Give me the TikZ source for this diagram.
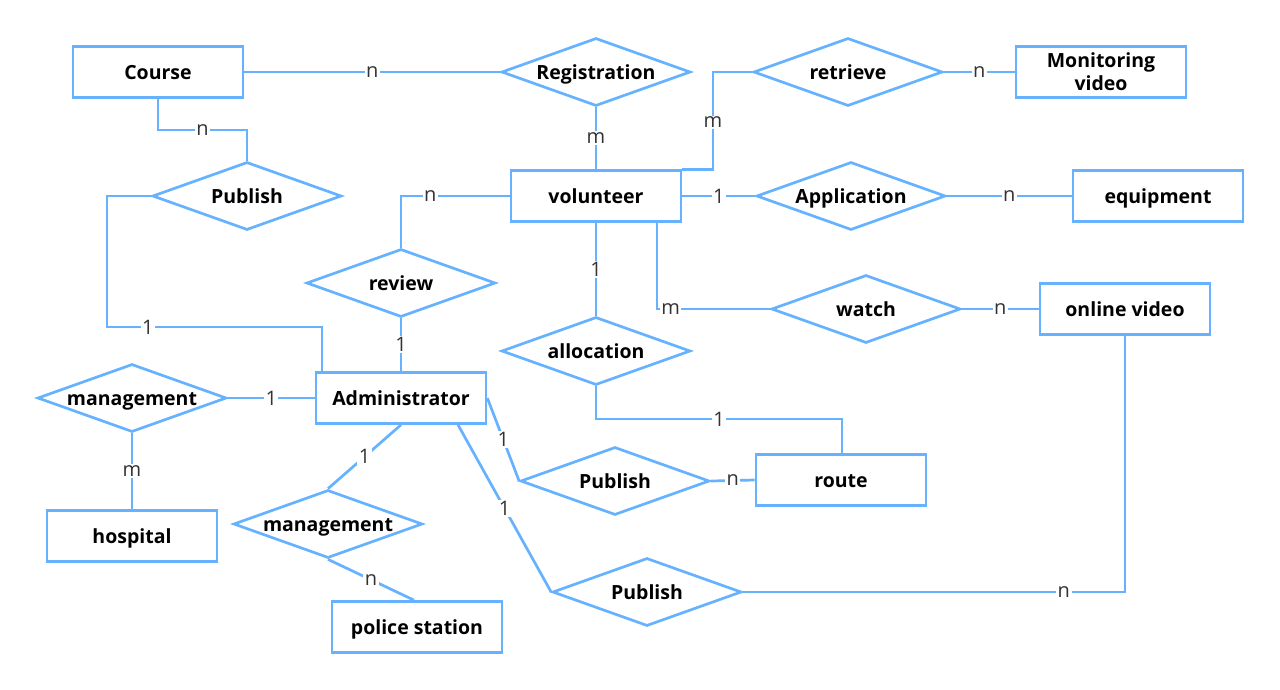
\documentclass[tikz,border=0pt]{standalone}
\usepackage{fontspec}
\setmainfont{Open Sans}[BoldFont={Open Sans Bold}]
\usetikzlibrary{shapes.geometric}
\definecolor{erblue}{RGB}{102,178,255}
\definecolor{lblgray}{RGB}{51,51,51}
\tikzset{
  entbase/.style={draw=erblue, line width=2.7pt, rectangle, minimum width=170pt, minimum height=51pt, inner sep=0pt, font=\fontsize{19.5}{23}\selectfont\bfseries},
  ent/.style={entbase, text height=14pt, text depth=0pt},
  rel/.style={draw=erblue, line width=2.7pt, diamond, aspect=2.78, minimum width=189pt, minimum height=68pt, inner sep=0pt, text height=14pt, text depth=0pt, font=\fontsize{19.5}{23}\selectfont\bfseries},
  conn/.style={draw=erblue, line width=2.7pt},
  card/.style={fill=white, inner sep=1.5pt, text=lblgray, font=\fontsize{20}{20}\selectfont}
}
\begin{document}
\begin{tikzpicture}[x=1pt,y=-1pt]
\useasboundingbox (0,0) rectangle (1280,689);
% entities
\node[ent] (course) at (158,72) {Course};
\node[entbase, align=center] (monitor) at (1101,72) {Monitoring\\video};
\node[ent] (vol) at (596,196) {volunteer};
\node[ent] (equip) at (1158,196) {equipment};
\node[ent] (online) at (1125,309) {online video};
\node[ent] (admin) at (401,398) {Administrator};
\node[ent] (hosp) at (132,536) {hospital};
\node[ent] (police) at (417,627) {police station};
\node[ent] (route) at (841,480) {route};
% relationships
\node[rel] (reg) at (596,72) {Registration};
\node[rel] (retr) at (848,72) {retrieve};
\node[rel] (appl) at (851,196) {Application};
\node[rel] (pub1) at (247,196) {Publish};
\node[rel] (review) at (401,283) {review};
\node[rel] (alloc) at (596,351) {allocation};
\node[rel] (watch) at (866,309) {watch};
\node[rel] (mgmt1) at (132,398) {management};
\node[rel] (mgmt2) at (328,524) {management};
\node[rel] (pub2) at (615,481) {Publish};
\node[rel] (pub3) at (647,592) {Publish};
% connectors
\draw[conn] (course.east) -- node[card]{n} (reg.west);
\draw[conn] (course.south) -- (158,130) -- node[card]{n} (247,130) -- (pub1.north);
\draw[conn] (pub1.west) -- (107,196) -- (107,327) -- node[card,pos=0.19]{1} (322,327) -- (admin.north west -| 322,373);
\draw[conn] (reg.south) -- node[card]{m} (vol.north);
\draw[conn] (vol.north east) -- (vol.north east -| 713,0) -- node[card,pos=0.48]{m} (713,72) -- (retr.west);
\draw[conn] (retr.east) -- node[card]{n} (monitor.west);
\draw[conn] (vol.east) -- node[card]{1} (appl.west);
\draw[conn] (appl.east) -- node[card]{n} (equip.west);
\draw[conn] (vol.west) -- node[card,pos=0.73]{n} (401,196) -- (review.north);
\draw[conn] (review.south) -- node[card]{1} (admin.north);
\draw[conn] (vol.south) -- node[card]{1} (alloc.north);
\draw[conn] (vol.south -| 657,221) -- (657,309) -- node[card,pos=0.12]{m} (watch.west);
\draw[conn] (watch.east) -- node[card]{n} (online.west);
\draw[conn] (alloc.south) -- (596,419) -- node[card,pos=0.5]{1} (842,419) -- (route.north -| 842,455);
\draw[conn] (mgmt1.east) -- node[card]{1} (admin.west);
\draw[conn] (mgmt1.south) -- node[card]{m} (hosp.north);
\draw[conn] (admin.south) -- node[card]{1} (mgmt2.north);
\draw[conn] (mgmt2.south) -- node[card]{n} (police.north -| 414,602);
\draw[conn] (admin.east) -- node[card,pos=0.5]{1} (pub2.west);
\draw[conn] (admin.south -| 458,423) -- node[card,pos=0.5]{1} (pub3.west);
\draw[conn] (pub2.east) -- node[card]{n} (route.west);
\draw[conn] (pub3.east) -- node[card,pos=0.84]{n} (1125,592) -- (online.south);
\end{tikzpicture}
\end{document}
